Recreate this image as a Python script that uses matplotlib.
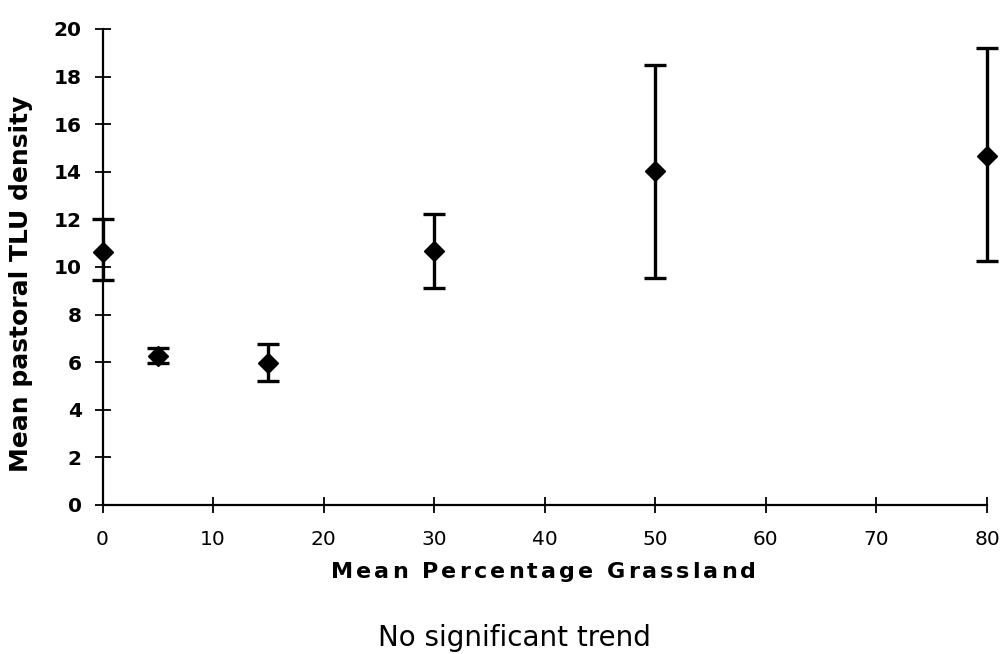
import matplotlib
matplotlib.use("Agg")
import matplotlib.pyplot as plt
from matplotlib.font_manager import FontProperties

# Mean grassland cover (%) and mean pastoral TLU density with error range
grassland = [0, 5, 15, 30, 50, 80]
tlu_mean = [10.64, 6.28, 5.98, 10.67, 14.03, 14.66]
tlu_low = [9.45, 5.98, 5.21, 9.12, 9.55, 10.25]
tlu_high = [12.02, 6.58, 6.76, 12.23, 18.49, 19.19]

x_ticks = [0, 10, 20, 30, 40, 50, 60, 70, 80]
y_ticks = [0, 2, 4, 6, 8, 10, 12, 14, 16, 18, 20]

x_title = "Mean Percentage Grassland"
y_title = "Mean pastoral TLU density"
note = "No significant trend"

W, H = 1005, 654
plt.rcParams["font.family"] = ["DejaVu Sans"]

fig = plt.figure(figsize=(W / 100, H / 100), dpi=100)
ax = fig.add_axes([102.5 / W, 1 - 505 / H, 884.5 / W, 476 / H])

err_lo = [m - lo for m, lo in zip(tlu_mean, tlu_low)]
err_hi = [hi - m for m, hi in zip(tlu_mean, tlu_high)]

ax.errorbar(grassland, tlu_mean, yerr=[err_lo, err_hi], fmt="D", color="black",
            ms=10, elinewidth=2.4, capsize=8, capthick=2.4, clip_on=False, zorder=3)

ax.set_xlim(0, 80)
ax.set_ylim(0, 20)
ax.set_xticks(x_ticks)
ax.set_yticks(y_ticks)

for side in ("top", "right"):
    ax.spines[side].set_visible(False)
for side in ("left", "bottom"):
    ax.spines[side].set_linewidth(1.6)

ax.tick_params(axis="both", direction="inout", length=12, width=1.3, colors="black")
ax.tick_params(axis="y", pad=9, labelsize=14.5)
ax.tick_params(axis="x", pad=12, labelsize=14.5)
for lbl in ax.get_yticklabels():
    lbl.set_fontweight("bold")

# y-axis title
ax.set_ylabel(y_title, fontsize=18, fontweight="bold")
ax.yaxis.set_label_coords((21 - 102.5) / 884.5, (505 - 283.5) / 476)
ax.yaxis.label.set_va("center")


def tracked_title(text, x_left, x_right, baseline, size):
    """Draw bold text letter by letter, spread evenly between x_left and x_right (pixels)."""
    renderer = fig.canvas.get_renderer()
    prop = FontProperties(family="DejaVu Sans", weight="bold", size=size)

    def width(s):
        return renderer.get_text_width_height_descent(s, prop, ismath=False)[0]

    space_w = width("n n") - width("nn")
    adv = [space_w if ch == " " else width(ch) for ch in text]
    gap = (x_right - x_left - sum(adv)) / (len(text) - 1)
    x = x_left
    for ch, a in zip(text, adv):
        if ch != " ":
            fig.text(x / W, 1 - baseline / H, ch, fontproperties=prop,
                     ha="left", va="baseline")
        x += a + gap


tracked_title(x_title, 331, 756, 578, 16)

fig.text(514.5 / W, 1 - 646 / H, note, fontsize=20, ha="center", va="baseline")

fig.savefig("out.png", dpi=100)
